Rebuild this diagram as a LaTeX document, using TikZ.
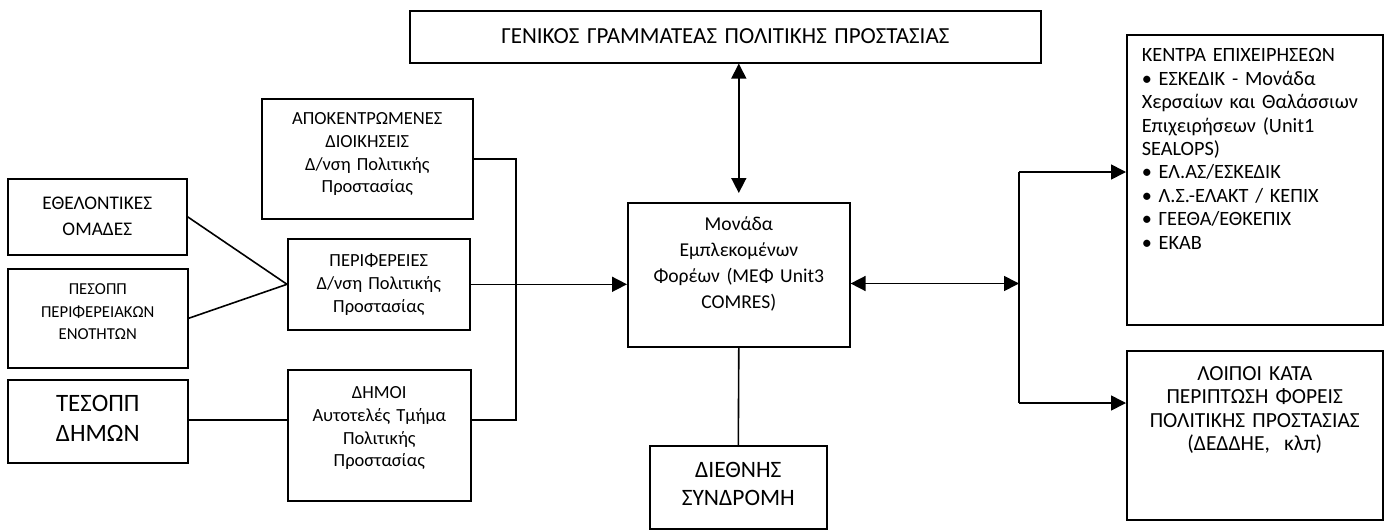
\documentclass[tikz,border=0pt]{standalone}
\usepackage{fontspec}
\setmainfont{Carlito}
\usetikzlibrary{arrows.meta}
\newcommand{\fsz}[2]{\fontsize{#1}{#2}\selectfont}

\begin{document}
\begin{tikzpicture}[x=1pt, y=-1pt,
  box/.style={draw, line width=1.6pt, anchor=north west, inner xsep=4pt, inner ysep=0pt, align=center},
  link/.style={line width=1.6pt},
  arr/.style={link, -{Triangle[length=15pt, width=15pt]}},
  darr/.style={link, {Triangle[length=15pt, width=15pt]}-{Triangle[length=15pt, width=15pt]}}]
  \useasboundingbox (0,0) rectangle (1388,530);

  % Γενικός Γραμματέας
  \node[box, minimum width=631pt, text width=623pt, text height=33pt, text depth=19pt, font=\fsz{23}{28}] (gen) at (409,10) {ΓΕΝΙΚΟΣ ΓΡΑΜΜΑΤΕΑΣ ΠΟΛΙΤΙΚΗΣ ΠΡΟΣΤΑΣΙΑΣ};

  % Αριστερή στήλη
  \node[box, minimum width=179pt, text width=171pt, text height=31pt, text depth=45pt, font=\fsz{19.3}{26}] (ethel) at (7,178) {ΕΘΕΛΟΝΤΙΚΕΣ\\ΟΜΑΔΕΣ};
  \node[box, minimum width=180pt, text width=172pt, text height=26pt, text depth=73pt, font=\fsz{16.7}{22.5}] (pesopp) at (7,268) {ΠΕΣΟΠΠ\\ΠΕΡΙΦΕΡΕΙΑΚΩΝ\\ΕΝΟΤΗΤΩΝ};
  \node[box, minimum width=180pt, text width=172pt, text height=32pt, text depth=51pt, font=\fsz{25}{30}] (tesopp) at (7,379) {ΤΕΣΟΠΠ\\ΔΗΜΩΝ};

  % Μεσαία στήλη
  \node[box, minimum width=211pt, text width=203pt, text height=26pt, text depth=94pt, font=\fsz{18.5}{22.6}] (apok) at (261,98) {ΑΠΟΚΕΝΤΡΩΜΕΝΕΣ\\ΔΙΟΙΚΗΣΕΙΣ\\Δ/νση Πολιτικής\\Προστασίας};
  \node[box, minimum width=182pt, text width=174pt, text height=28pt, text depth=63pt, font=\fsz{18.5}{22.6}] (perif) at (287,238) {ΠΕΡΙΦΕΡΕΙΕΣ\\Δ/νση Πολιτικής\\Προστασίας};
  \node[box, minimum width=183pt, text width=175pt, text height=29pt, text depth=102pt, font=\fsz{18.5}{22.6}] (dimoi) at (287,369) {ΔΗΜΟΙ\\Αυτοτελές Τμήμα\\Πολιτικής\\Προστασίας};

  % Κέντρο
  \node[box, minimum width=222pt, text width=214pt, text height=28pt, text depth=116pt, font=\fsz{19.6}{26}] (monada) at (627,202) {Μονάδα\\Εμπλεκομένων\\Φορέων (ΜΕΦ Unit3\\COMRES)};
  \node[box, minimum width=177pt, text width=169pt, text height=32pt, text depth=51pt, font=\fsz{23.5}{28}] (diethnis) at (649,445) {ΔΙΕΘΝΗΣ\\ΣΥΝΔΡΟΜΗ};

  % Δεξιά στήλη
  \node[box, inner xsep=15pt, align=left, minimum width=256pt, text width=226pt, text height=27pt, text depth=263pt, font=\fsz{20.3}{23.4}] (kentra) at (1126,34) {ΚΕΝΤΡΑ ΕΠΙΧΕΙΡΗΣΕΩΝ\\• ΕΣΚΕΔΙΚ - Μονάδα\\Χερσαίων και Θαλάσσιων\\Επιχειρήσεων (Unit1\\SEALOPS)\\• ΕΛ.ΑΣ/ΕΣΚΕΔΙΚ\\• Λ.Σ.-ΕΛΑΚΤ / ΚΕΠΙΧ\\• ΓΕΕΘΑ/ΕΘΚΕΠΙΧ\\• ΕΚΑΒ};
  \node[box, minimum width=256pt, text width=248pt, text height=29.5pt, text depth=139.5pt, font=\fsz{21.5}{23.5}] (loipoi) at (1126,350) {ΛΟΙΠΟΙ ΚΑΤΑ\\ΠΕΡΙΠΤΩΣΗ ΦΟΡΕΙΣ\\ΠΟΛΙΤΙΚΗΣ ΠΡΟΣΤΑΣΙΑΣ\\(ΔΕΔΔΗΕ,\ \ κλπ)};

  % Σημεία διακλάδωσης
  \coordinate (jl) at (516,420);
  \coordinate (jr) at (1019,283.5);
  \coordinate (jt) at (1019,172);
  \coordinate (jb) at (1019,403);

  % Αριστερά
  \draw[link] (ethel.east) -- (perif.west);
  \draw[link] (pesopp.east) -- (perif.west);
  \draw[link] (jl -| tesopp.east) -- (jl -| dimoi.west);
  \draw[link] (apok.east) -| (jl) -- (jl -| dimoi.east);
  \draw[arr] (perif.east) -- (perif.east -| monada.west);

  % Πάνω και κάτω
  \draw[darr, shorten >=9pt] (monada.north |- gen.south) -- (monada.north);
  \draw[link] (monada.south) -- (diethnis.north);

  % Δεξιά
  \draw[darr] (monada.east |- jr) -- (jr);
  \draw[link] (jt) -- (jb);
  \draw[arr] (jt) -- (jt -| kentra.west);
  \draw[arr] (jb) -- (jb -| loipoi.west);
\end{tikzpicture}
\end{document}
